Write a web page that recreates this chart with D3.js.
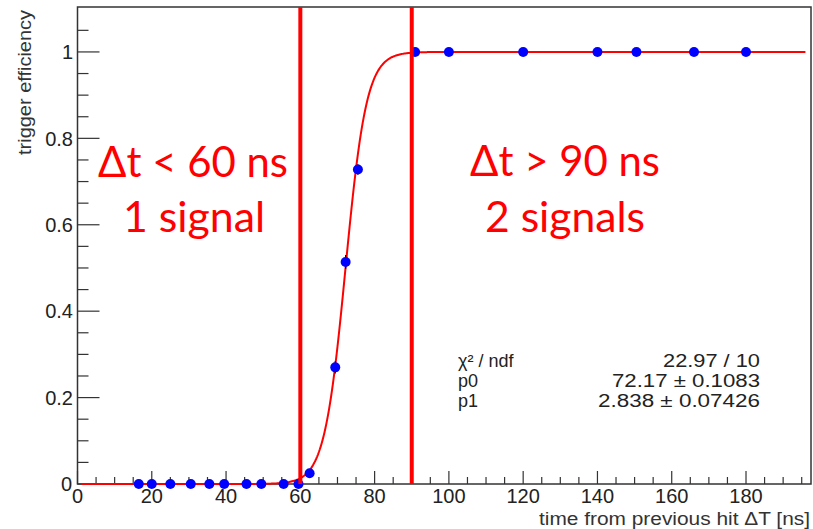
<!DOCTYPE html>
<meta charset="utf-8">
<style>
    body { margin: 0; background: #fff; }
    .tick-label { font: 20px "Liberation Sans", Arial, sans-serif; fill: #222; }
    .axis-title { font: 17.5px "Liberation Sans", Arial, sans-serif; fill: #333; }
    .stats { font: 18px "Liberation Sans", Arial, sans-serif; fill: #222; }
    .big { font: 42px Lato, "Open Sans", sans-serif; fill: #ff0000; }
</style>
<body>
    <svg width="813" height="529"></svg>
</body>
<script src="https://cdn.jsdelivr.net/npm/d3@7"></script>
<script>
    // measured points (time in ns, efficiency)
    var pointX = [16.5, 20, 25, 30.5, 35.5, 39.5, 45.5, 49.5, 55.5, 59.5, 62.5, 69.4, 72.2, 75.5, 90.9, 100, 120, 140, 150.5, 166, 180];
    var pointY = [0, 0, 0, 0, 0, 0, 0, 0, 0, 0, 0.025, 0.27, 0.514, 0.728, 1, 1, 1, 1, 1, 1, 1];
    var pointErr = [0, 0, 0, 0, 0, 0, 0, 0, 0, 0, 0.006, 0.014, 0.016, 0.012, 0, 0, 0, 0, 0, 0, 0];

    // fit result shown in the stats box
    var fitP0 = 72.17, fitP1 = 2.838;
    var statNames = ["\u03c7\u00b2 / ndf", "p0", "p1"];
    var statValues = ["22.97 / 10", "72.17 \u00b1 0.1083", "2.838 \u00b1 0.07426"];

    var cutLines = [60, 90];
    var xTicks = [0, 20, 40, 60, 80, 100, 120, 140, 160, 180];
    var yTicks = [0, 0.2, 0.4, 0.6, 0.8, 1];

    var svg = d3.select("svg");

    var x = d3.scaleLinear().domain([0, 197.5]).range([77.5, 811]);
    var y = d3.scaleLinear().domain([0, 1.104]).range([484, 7]);

    var frameColor = "#333";

    // frame
    svg.append("rect")
        .attr("x", x(0)).attr("y", y(1.104))
        .attr("width", x(197.5) - x(0)).attr("height", y(0) - y(1.104))
        .attr("fill", "none").attr("stroke", frameColor).attr("stroke-width", 1.5);

    // x ticks
    var xMinor = d3.range(0, 197, 5);
    svg.append("g").selectAll("line")
        .data(xMinor)
        .enter().append("line")
        .attr("x1", function (d) { return x(d); })
        .attr("x2", function (d) { return x(d); })
        .attr("y1", y(0))
        .attr("y2", function (d) { return d % 20 === 0 ? y(0) - 13 : y(0) - 7; })
        .attr("stroke", "#333").attr("stroke-width", 1.2);

    svg.append("g").selectAll("text")
        .data(xTicks)
        .enter().append("text")
        .attr("class", "tick-label")
        .attr("x", function (d) { return x(d); })
        .attr("y", 503)
        .attr("text-anchor", "middle")
        .text(function (d) { return d; });

    // y ticks
    var yMinor = d3.range(0, 21).map(function (i) { return i * 0.05; }).concat([1.05]);
    svg.append("g").selectAll("line")
        .data(yMinor)
        .enter().append("line")
        .attr("x1", x(0))
        .attr("x2", function (d) { return Math.round(d * 100) % 20 === 0 ? x(0) + 22 : x(0) + 11; })
        .attr("y1", function (d) { return y(d); })
        .attr("y2", function (d) { return y(d); })
        .attr("stroke", "#333").attr("stroke-width", 1.2);

    svg.append("g").selectAll("text")
        .data(yTicks)
        .enter().append("text")
        .attr("class", "tick-label")
        .attr("x", function (d) { return d === 0 ? 72 : 73; })
        .attr("y", function (d) { return y(d); })
        .attr("dy", "0.36em")
        .attr("text-anchor", "end")
        .text(function (d) { return d; });

    // axis titles
    svg.append("text")
        .attr("class", "axis-title")
        .attr("x", 810).attr("y", 525)
        .attr("text-anchor", "end")
        .attr("textLength", 271).attr("lengthAdjust", "spacingAndGlyphs")
        .text("time from previous hit \u0394T [ns]");

    svg.append("text")
        .attr("class", "axis-title")
        .attr("transform", "translate(31,10) rotate(-90)")
        .attr("text-anchor", "end")
        .attr("textLength", 145).attr("lengthAdjust", "spacingAndGlyphs")
        .text("trigger efficiency");

    // fit curve
    var curveX = d3.range(1, 196.01, 0.25);
    var fit = function (t) { return 1 / (1 + Math.exp(-(t - fitP0) / fitP1)); };
    svg.append("path")
        .datum(curveX)
        .attr("fill", "none")
        .attr("stroke", "#ff0000")
        .attr("stroke-width", 2)
        .attr("d", d3.line()
            .x(function (d) { return x(d); })
            .y(function (d) { return y(fit(d)); }));

    // error bars
    var pts = pointX.map(function (d, i) { return { x: d, y: pointY[i], e: pointErr[i] }; });
    svg.append("g").selectAll("line")
        .data(pts.filter(function (d) { return d.e > 0; }))
        .enter().append("line")
        .attr("x1", function (d) { return x(d.x); })
        .attr("x2", function (d) { return x(d.x); })
        .attr("y1", function (d) { return y(d.y - d.e); })
        .attr("y2", function (d) { return y(d.y + d.e); })
        .attr("stroke", "#000").attr("stroke-width", 1.2);

    // points
    svg.append("g").selectAll("circle")
        .data(pts)
        .enter().append("circle")
        .attr("cx", function (d) { return x(d.x); })
        .attr("cy", function (d) { return y(d.y); })
        .attr("r", 5)
        .attr("fill", "#0000ff");

    // cut lines
    svg.append("g").selectAll("line")
        .data(cutLines)
        .enter().append("line")
        .attr("x1", function (d) { return x(d); })
        .attr("x2", function (d) { return x(d); })
        .attr("y1", y(1.104))
        .attr("y2", y(0))
        .attr("stroke", "#ff0000").attr("stroke-width", 4);

    // region labels
    var bigLabels = [
        { t: "\u0394t < 60 ns", cx: 193, y: 177, w: 190 },
        { t: "1 signal", cx: 194, y: 232, w: 142 },
        { t: "\u0394t > 90 ns", cx: 565, y: 176, w: 190 },
        { t: "2 signals", cx: 565, y: 232, w: 160 }
    ];
    svg.append("g").selectAll("text")
        .data(bigLabels)
        .enter().append("text")
        .attr("class", "big")
        .attr("x", function (d) { return d.cx; })
        .attr("y", function (d) { return d.y; })
        .attr("text-anchor", "middle")
        .attr("textLength", function (d) { return d.w; })
        .attr("lengthAdjust", "spacingAndGlyphs")
        .text(function (d) { return d.t; });

    // stats box text
    var statY = [367, 387, 407];
    var statValW = [97, 148, 162];
    svg.append("g").selectAll("text")
        .data(statNames)
        .enter().append("text")
        .attr("class", "stats")
        .attr("x", 458)
        .attr("y", function (d, i) { return statY[i]; })
        .text(function (d) { return d; });

    svg.append("g").selectAll("text")
        .data(statValues)
        .enter().append("text")
        .attr("class", "stats")
        .attr("x", 760)
        .attr("y", function (d, i) { return statY[i]; })
        .attr("text-anchor", "end")
        .attr("textLength", function (d, i) { return statValW[i]; })
        .attr("lengthAdjust", "spacingAndGlyphs")
        .text(function (d) { return d; });
</script>
